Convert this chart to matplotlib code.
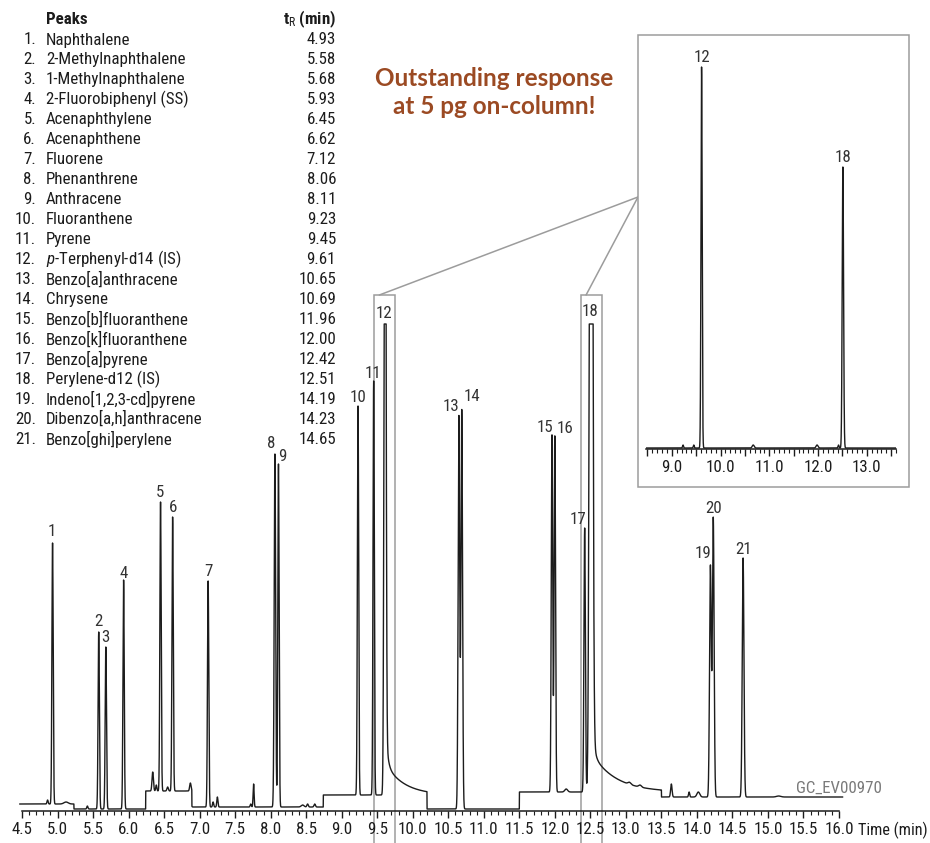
import numpy as np
import matplotlib
matplotlib.use("Agg")
import matplotlib.pyplot as plt
from matplotlib import font_manager
from matplotlib.patches import Rectangle, ConnectionPatch
from matplotlib.ticker import MultipleLocator, FuncFormatter

# ---- peak table -----------------------------------------------------------
compounds = [
    "Naphthalene", "2-Methylnaphthalene", "1-Methylnaphthalene",
    "2-Fluorobiphenyl (SS)", "Acenaphthylene", "Acenaphthene", "Fluorene",
    "Phenanthrene", "Anthracene", "Fluoranthene", "Pyrene",
    r"$\mathit{p}$-Terphenyl-d14 (IS)", "Benzo[a]anthracene", "Chrysene",
    "Benzo[b]fluoranthene", "Benzo[k]fluoranthene", "Benzo[a]pyrene",
    "Perylene-d12 (IS)", "Indeno[1,2,3-cd]pyrene", "Dibenzo[a,h]anthracene",
    "Benzo[ghi]perylene",
]
rt = [4.93, 5.58, 5.68, 5.93, 6.45, 6.62, 7.12, 8.06, 8.11, 9.23, 9.45,
      9.61, 10.65, 10.69, 11.96, 12.00, 12.42, 12.51, 14.19, 14.23, 14.65]

# main chromatogram: peak height above local baseline and peak sigma (min)
height = [261, 177, 162, 229, 289, 274, 226, 353, 343, 389, 414,
          960, 393, 399, 357, 356, 264, 1500, 231, 279, 239]
sigma = [0.009, 0.009, 0.009, 0.009, 0.009, 0.009, 0.009, 0.010, 0.009,
         0.009, 0.009, 0.012, 0.011, 0.011, 0.010, 0.010, 0.010, 0.018,
         0.012, 0.012, 0.012]

# small unlabeled peaks
minor_rt = [4.86, 5.12, 5.42, 6.34, 6.39, 6.55, 6.87, 7.19, 7.25, 7.72,
            7.76, 8.45, 8.52, 8.62, 12.16, 13.05, 13.20, 13.64, 13.89,
            14.02, 15.15]
minor_h = [4, 2, 3, 19, 6, 4, 8, 5, 10, 3, 23, 2, 3, 3, 3, 2, 2, 13, 5, 5, 1]
minor_sigma = [0.008, 0.03, 0.008, 0.010, 0.008, 0.010, 0.010, 0.008,
               0.008, 0.008, 0.007, 0.02, 0.010, 0.010, 0.02, 0.02, 0.02,
               0.010, 0.008, 0.02, 0.03]

# baseline level of each acquisition window
seg_start = [4.47, 5.23, 6.24, 6.89, 8.74, 10.20, 11.50, 13.50]
seg_level = [7, 2, 20, 4, 16, 2, 19, 14]

# tailing of the two internal standards
tail_rt = [9.61, 12.51]
tail_end = [10.20, 13.50]
tail_fast = [60, 80]
tail_fast_tau = [0.025, 0.025]
tail_slow = [32, 40]
tail_slow_tau = [0.26, 0.33]
saturation = 487

# label offsets (px) from the peak apex
label_dx = [-1, 0, 0, 0, -1, 0, 0, -4, 4, 0, -1, -1, -8, 10, -7, 10, -7, -1, -7, 0, 0]
label_dy = [11, 10, 9, 7, 9, 9, 9, 10, 7, 8, 7, 10, 9, 13, 7, 7, 8, 12, 11, 9, 9]

# inset: internal standards at full scale
inset_rt = [9.23, 9.45, 9.61, 10.67, 11.98, 12.42, 12.51]
inset_h = [3, 3, 381, 3, 3, 3, 281]
inset_sigma = [0.01, 0.01, 0.012, 0.02, 0.02, 0.01, 0.014]
inset_labels = {9.61: "12", 12.51: "18"}

zoom_lo = [9.45, 12.37]
zoom_hi = [9.75, 12.67]
zoom_anchor = [9.53, 12.44]

# ---- fonts: prefer a narrow sans if one is around --------------------------
ttf = font_manager.fontManager.ttflist
installed = {f.name for f in ttf}
narrow, stretch, fs = "DejaVu Sans", "normal", 10
for name in ["Liberation Sans Narrow", "Arial Narrow", "Roboto Condensed",
             "Open Sans Condensed", "Noto Sans Condensed",
             "Noto Sans SemiCondensed", "DejaVu Sans Condensed"]:
    if name in installed:
        narrow, fs = name, 12.5 if "Narrow" in name else 12.2
        break
else:
    for f in ttf:
        if f.name in ("Noto Sans", "DejaVu Sans", "Open Sans", "Roboto") \
                and "condensed" in str(f.stretch):
            narrow, stretch, fs = f.name, f.stretch, 12.2
            break

plt.rcParams["font.family"] = [narrow, "DejaVu Sans"]
plt.rcParams["font.stretch"] = stretch
plt.rcParams["mathtext.fontset"] = "custom"
plt.rcParams["mathtext.rm"] = narrow
plt.rcParams["mathtext.it"] = narrow + ":italic"
plt.rcParams["mathtext.bf"] = narrow + ":bold"

ink = "#1c1c1c"
grey = "#9c9c9c"


def gauss_sum(t, centers, heights, widths):
    y = np.zeros_like(t)
    for c, h, w in zip(centers, heights, widths):
        y += h * np.exp(-0.5 * ((t - c) / w) ** 2)
    return y


t = np.arange(4.47, 16.05, 0.0005)
idx = np.searchsorted(seg_start, t, side="right") - 1
signal = np.array(seg_level, dtype=float)[idx]
signal += gauss_sum(t, rt, height, sigma)
signal += gauss_sum(t, minor_rt, minor_h, minor_sigma)
for r, e, a1, k1, a2, k2 in zip(tail_rt, tail_end, tail_fast, tail_fast_tau,
                                tail_slow, tail_slow_tau):
    m = (t >= r) & (t < e)
    dt = t[m] - r
    signal[m] += a1 * np.exp(-dt / k1) + a2 * np.exp(-dt / k2)
signal = np.minimum(signal, saturation)

W, H = 930, 843


def fx(px):
    return px / W


def fy(py):
    return 1 - py / H


fig = plt.figure(figsize=(9.3, 8.43), dpi=100)

# ---- main chromatogram ----------------------------------------------------
ax = fig.add_axes([fx(22), fy(811), fx(839) - fx(22), 811 / H])
ax.set_xlim(4.5, 16.0)
ax.set_ylim(0, 811)
ax.plot(t, signal, color=ink, lw=1.0, clip_on=False, zorder=3)

for s in ("left", "right", "top"):
    ax.spines[s].set_visible(False)
ax.spines["bottom"].set_linewidth(1.1)
ax.spines["bottom"].set_color(ink)
ax.set_yticks([])
ax.xaxis.set_major_locator(MultipleLocator(0.5))
ax.xaxis.set_minor_locator(MultipleLocator(0.1))
ax.xaxis.set_major_formatter(FuncFormatter(lambda v, p: f"{v:.1f}"))
ax.tick_params(axis="x", which="major", length=5, width=1.0, pad=3,
               labelsize=fs, colors=ink)
ax.tick_params(axis="x", which="minor", length=3, width=0.8, colors=ink)
ax.patch.set_alpha(0)

for i, (r, dx, dy) in enumerate(zip(rt, label_dx, label_dy)):
    win = np.abs(t - r) < 0.015
    apex = signal[win].max()
    ax.annotate(str(i + 1), xy=(r, apex), xytext=(dx * 0.72, dy * 0.72),
                textcoords="offset points", ha="center", va="center",
                fontsize=fs, color="#333333")

box_top = 516
for lo, hi, anc in zip(zoom_lo, zoom_hi, zoom_anchor):
    ax.add_patch(Rectangle((lo, -80), hi - lo, box_top + 80, fill=False,
                           ec=grey, lw=1.1, clip_on=False, zorder=1))
    fig.add_artist(ConnectionPatch(xyA=(anc, box_top), coordsA=ax.transData,
                                   xyB=(fx(638), fy(197)),
                                   coordsB=fig.transFigure,
                                   color=grey, lw=1.1))

xlabel = fig.text(fx(858), fy(830), "Time (min)", ha="left", va="center",
                  fontsize=fs, color=ink)
fig.text(fx(882), fy(788), "GC_EV00970", ha="right", va="center",
         fontsize=fs, color="#7a7a7a")

# ---- peak list ------------------------------------------------------------
fig.text(fx(46), fy(19), "Peaks", ha="left", va="center", fontsize=fs,
         fontweight="bold", color=ink)
fig.text(fx(336), fy(19), r"$\mathbf{t}_{\mathrm{R}}$ (min)", ha="right",
         va="center", fontsize=fs, fontweight="bold", color=ink)
for i, (name, r) in enumerate(zip(compounds, rt)):
    y = fy(40 + 19.95 * i)
    fig.text(fx(36), y, f"{i + 1}.", ha="right", va="center", fontsize=fs, color=ink)
    fig.text(fx(46), y, name, ha="left", va="center", fontsize=fs, color=ink)
    fig.text(fx(336), y, f"{r:.2f}", ha="right", va="center", fontsize=fs, color=ink)

# ---- callout --------------------------------------------------------------
for line, py in (("Outstanding response", 78), ("at 5 pg on-column!", 107)):
    fig.text(fx(494), fy(py), line, ha="center", va="center", fontsize=17.5,
             fontweight="bold", family="Lato", color="#9b4a23")

# ---- inset ----------------------------------------------------------------
frame = Rectangle((fx(638), fy(487)), fx(909) - fx(638), (487 - 35) / H,
                  transform=fig.transFigure, fill=True, fc="white",
                  ec=grey, lw=1.1, zorder=1)
fig.add_artist(frame)

axi = fig.add_axes([fx(646), fy(449), fx(896) - fx(646), (449 - 40) / H],
                   zorder=2)
axi.patch.set_alpha(0)
ti = np.arange(8.47, 13.6, 0.0005)
si = 1 + gauss_sum(ti, inset_rt, inset_h, inset_sigma)
axi.plot(ti, si, color=ink, lw=1.0, zorder=3)
axi.set_xlim(8.47, 13.6)
axi.set_ylim(0, 409)
for s in ("left", "right", "top"):
    axi.spines[s].set_visible(False)
axi.spines["bottom"].set_linewidth(1.1)
axi.spines["bottom"].set_color(ink)
axi.set_yticks([])
axi.xaxis.set_major_locator(MultipleLocator(0.5))
axi.xaxis.set_minor_locator(MultipleLocator(0.1))
axi.xaxis.set_major_formatter(
    FuncFormatter(lambda v, p: f"{v:.1f}" if abs(v - round(v)) < 1e-6 else ""))
axi.tick_params(axis="x", which="major", length=5, width=1.0, pad=3,
                labelsize=fs, colors=ink)
axi.tick_params(axis="x", which="minor", length=3, width=0.8, colors=ink)
for r, lab in inset_labels.items():
    win = np.abs(ti - r) < 0.015
    axi.annotate(lab, xy=(r, si[win].max()), xytext=(0, 7),
                 textcoords="offset points", ha="center", va="center",
                 fontsize=fs, color="#333333")

# shrink the axis title until it fits to the right of the last tick label
renderer = fig.canvas.get_renderer()
size = fs
while xlabel.get_window_extent(renderer).x1 > W - 2 and size > 6:
    size -= 0.25
    xlabel.set_fontsize(size)

fig.savefig("out.png", dpi=100)
